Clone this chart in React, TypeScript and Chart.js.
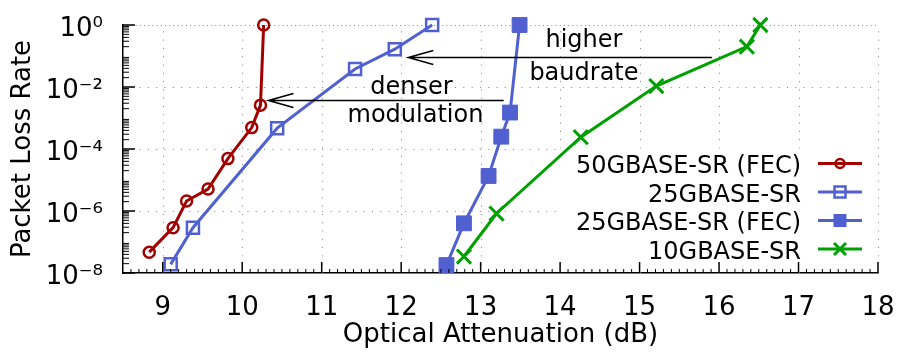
import React, { useEffect, useRef } from 'react';
import { Chart, registerables } from 'chart.js';

Chart.register(...registerables);

// ---------- data ----------
const fec50X = [8.83, 9.13, 9.30, 9.57, 9.82, 10.12, 10.23, 10.27];
const fec50Y = [4.7e-8, 2.9e-7, 2.1e-6, 5.1e-6, 4.9e-5, 4.9e-4, 2.6e-3, 1.0];

const sr25X = [9.10, 9.38, 10.44, 11.42, 11.92, 12.39];
const sr25Y = [1.9e-8, 2.9e-7, 4.7e-4, 3.8e-2, 1.66e-1, 1.0];

const fec25X = [12.57, 12.79, 13.10, 13.26, 13.37, 13.49];
const fec25Y = [1.8e-8, 4.0e-7, 1.35e-5, 2.5e-4, 1.5e-3, 1.0];

const sr10X = [12.79, 13.20, 14.26, 15.21, 16.35, 16.52];
const sr10Y = [3.4e-8, 8.3e-7, 2.4e-4, 1.07e-2, 2.0e-1, 1.0];

const seriesNames = ['50GBASE-SR (FEC)', '25GBASE-SR', '25GBASE-SR (FEC)', '10GBASE-SR'];

const xTicks = [9, 10, 11, 12, 13, 14, 15, 16, 17, 18];
const yTicks = [1e-8, 1e-6, 1e-4, 1e-2, 1];
const yTickLabels = ['10⁻⁸', '10⁻⁶', '10⁻⁴', '10⁻²', '10⁰'];

const xTitle = 'Optical Attenuation (dB)';
const yTitle = 'Packet Loss Rate';

// annotations (data coordinates)
const noteTexts = ['denser', 'modulation', 'higher', 'baudrate'];
const noteX = [12.13, 12.18, 14.30, 14.30];
const noteY = [10 ** -2.23, 10 ** -3.12, 10 ** -0.72, 10 ** -1.77];
const arrowFromX = [13.29, 15.91];
const arrowToX = [10.33, 12.09];
const arrowY = [10 ** -2.42, 10 ** -1.02];

// ---------- styles ----------
const RED = '#a00000';
const BLUE = '#5060d0';
const GREEN = '#00a000';
const FONT = '"DejaVu Sans", sans-serif';

const toPoints = (xs: number[], ys: number[]) => xs.map((x, i) => ({ x, y: ys[i] }));

const decorPlugin = {
  id: 'gnuplotDecor',
  beforeDatasetsDraw(chart: any) {
    const { ctx, chartArea: a } = chart;
    const xs = chart.scales.x;
    const ys = chart.scales.y;
    ctx.save();
    ctx.strokeStyle = '#808080';
    ctx.lineWidth = 1;
    ctx.setLineDash([1, 7.3]);
    for (const v of xTicks) {
      const px = Math.round(xs.getPixelForValue(v)) + 0.5;
      ctx.beginPath();
      ctx.moveTo(px, a.bottom);
      ctx.lineTo(px, a.top);
      ctx.stroke();
    }
    for (const v of yTicks) {
      if (v === yTicks[0]) continue;
      const py = Math.round(ys.getPixelForValue(v)) + 0.5;
      ctx.setLineDash(v === 1 ? [1, 3.2] : [1, 7.3]);
      ctx.beginPath();
      ctx.moveTo(a.left, py);
      ctx.lineTo(a.right, py);
      ctx.stroke();
    }
    ctx.setLineDash([]);
    // opaque key box
    ctx.fillStyle = '#ffffff';
    ctx.fillRect(a.right - 320, a.top + 123.5, 314, a.bottom - a.top - 125.5);
    ctx.restore();
  },
  afterDatasetsDraw(chart: any) {
    const { ctx, chartArea: a } = chart;
    const xs = chart.scales.x;
    const ys = chart.scales.y;
    ctx.save();
    ctx.setLineDash([]);
    ctx.strokeStyle = '#000';
    ctx.lineWidth = 1.5;
    for (const v of xTicks) {
      const px = xs.getPixelForValue(v);
      ctx.beginPath();
      ctx.moveTo(px, a.bottom);
      ctx.lineTo(px, a.bottom - 11);
      ctx.stroke();
    }
    for (const v of yTicks) {
      const py = ys.getPixelForValue(v);
      ctx.beginPath();
      ctx.moveTo(a.left, py);
      ctx.lineTo(a.left + 12, py);
      ctx.stroke();
    }
    ctx.lineWidth = 1;
    for (let i = 86; i < 180; i++) {
      if (i % 10 === 0) continue;
      const px = xs.getPixelForValue(i / 10);
      ctx.beginPath();
      ctx.moveTo(px, a.bottom);
      ctx.lineTo(px, a.bottom - 4);
      ctx.stroke();
    }
    for (let d = -8; d < 0; d++) {
      for (let k = 2; k <= 9; k++) {
        const py = ys.getPixelForValue(k * 10 ** d);
        ctx.beginPath();
        ctx.moveTo(a.left, py);
        ctx.lineTo(a.left + 6, py);
        ctx.stroke();
      }
    }
    // arrows
    ctx.lineWidth = 1.5;
    for (let i = 0; i < arrowY.length; i++) {
      const py = Math.round(ys.getPixelForValue(arrowY[i])) + 0.5;
      const x1 = xs.getPixelForValue(arrowFromX[i]);
      const x2 = xs.getPixelForValue(arrowToX[i]);
      ctx.beginPath();
      ctx.moveTo(x1, py);
      ctx.lineTo(x2, py);
      ctx.moveTo(x2 + 25, py - 7);
      ctx.lineTo(x2, py);
      ctx.lineTo(x2 + 25, py + 7);
      ctx.stroke();
    }
    // annotation text
    ctx.fillStyle = '#000';
    ctx.font = `24px ${FONT}`;
    ctx.textAlign = 'center';
    ctx.textBaseline = 'alphabetic';
    for (let i = 0; i < noteTexts.length; i++) {
      ctx.fillText(noteTexts[i], xs.getPixelForValue(noteX[i]), ys.getPixelForValue(noteY[i]));
    }
    // legend (key)
    const colors = [RED, BLUE, BLUE, GREEN];
    const rowsY = [a.bottom - 109.5, a.bottom - 81, a.bottom - 52.5, a.bottom - 24];
    const textRight = a.right - 77;
    const s1 = a.right - 60;
    const s2 = a.right - 16;
    const mx = a.right - 38;
    ctx.textAlign = 'right';
    for (let i = 0; i < seriesNames.length; i++) {
      const ly = rowsY[i];
      ctx.fillStyle = '#000';
      ctx.fillText(seriesNames[i], textRight, ly + 9.5);
      ctx.strokeStyle = colors[i];
      ctx.fillStyle = colors[i];
      ctx.lineWidth = 3;
      ctx.beginPath();
      ctx.moveTo(s1, ly);
      ctx.lineTo(s2, ly);
      ctx.stroke();
      ctx.lineWidth = 2.5;
      if (i === 0) {
        ctx.beginPath();
        ctx.arc(mx, ly, 4.5, 0, Math.PI * 2);
        ctx.stroke();
      } else if (i === 1) {
        ctx.strokeRect(mx - 5.5, ly - 5.5, 11, 11);
      } else if (i === 2) {
        ctx.fillRect(mx - 6.5, ly - 6.5, 13, 13);
      } else {
        ctx.lineWidth = 3;
        ctx.beginPath();
        ctx.moveTo(mx - 6, ly - 6);
        ctx.lineTo(mx + 6, ly + 6);
        ctx.moveTo(mx + 6, ly - 6);
        ctx.lineTo(mx - 6, ly + 6);
        ctx.stroke();
      }
    }
    ctx.restore();
  },
};

export default function App() {
  const ref = useRef<HTMLCanvasElement | null>(null);

  useEffect(() => {
    if (!ref.current) return;
    const common = { showLine: true, borderWidth: 3, clip: false as any, tension: 0 };
    const chart = new Chart(ref.current, {
      type: 'scatter',
      data: {
        datasets: [
          {
            ...common,
            label: seriesNames[0],
            data: toPoints(fec50X, fec50Y),
            borderColor: RED,
            pointStyle: 'circle',
            pointRadius: 5.5,
            pointBorderWidth: 2.5,
            pointBorderColor: RED,
            pointBackgroundColor: 'rgba(0,0,0,0)',
          },
          {
            ...common,
            label: seriesNames[1],
            data: toPoints(sr25X, sr25Y),
            borderColor: BLUE,
            pointStyle: 'rect',
            pointRadius: 8.5,
            pointBorderWidth: 2.5,
            pointBorderColor: BLUE,
            pointBackgroundColor: 'rgba(0,0,0,0)',
          },
          {
            ...common,
            label: seriesNames[2],
            data: toPoints(fec25X, fec25Y),
            borderColor: BLUE,
            pointStyle: 'rect',
            pointRadius: 10.5,
            pointBorderWidth: 1,
            pointBorderColor: BLUE,
            pointBackgroundColor: BLUE,
          },
          {
            ...common,
            label: seriesNames[3],
            data: toPoints(sr10X, sr10Y),
            borderColor: GREEN,
            pointStyle: 'crossRot',
            pointRadius: 10,
            pointBorderWidth: 3,
            pointBorderColor: GREEN,
            pointBackgroundColor: GREEN,
          },
        ],
      },
      options: {
        animation: false,
        responsive: false,
        maintainAspectRatio: false,
        layout: { padding: { top: 25, right: 23, left: 0, bottom: 0 } },
        plugins: {
          legend: { display: false },
          tooltip: { enabled: false },
        },
        scales: {
          x: {
            type: 'linear',
            min: 8.5,
            max: 18,
            afterBuildTicks: (s: any) => {
              s.ticks = xTicks.map((v) => ({ value: v }));
            },
            afterFit: (s: any) => {
              s.height = 80;
              s.paddingLeft = 0;
              s.paddingRight = 0;
              s.paddingTop = 0;
              s.paddingBottom = 0;
            },
            grid: { display: false, drawTicks: false },
            border: { display: true, color: '#000', width: 1.5 },
            ticks: {
              autoSkip: false,
              maxRotation: 0,
              padding: 20,
              color: '#000',
              font: { family: FONT, size: 26 },
              callback: (v: any) => String(v),
            },
            title: {
              display: true,
              text: xTitle,
              color: '#000',
              font: { family: FONT, size: 26 },
              padding: { top: 0, bottom: 2 },
            },
          },
          y: {
            type: 'logarithmic',
            min: 1e-8,
            max: 1,
            afterBuildTicks: (s: any) => {
              s.ticks = yTicks.map((v) => ({ value: v, major: true }));
            },
            afterFit: (s: any) => {
              s.width = 123;
              s.paddingLeft = 0;
              s.paddingRight = 0;
              s.paddingTop = 0;
              s.paddingBottom = 0;
            },
            grid: { display: false, drawTicks: false },
            border: { display: true, color: '#000', width: 1.5 },
            ticks: {
              autoSkip: false,
              padding: 20,
              labelOffset: 4,
              color: '#000',
              font: { family: FONT, size: 26 },
              callback: (_v: any, i: number) => yTickLabels[i],
            },
            title: {
              display: true,
              text: yTitle,
              color: '#000',
              font: { family: FONT, size: 26 },
              padding: { top: 8, bottom: 0 },
            },
          },
        },
      },
      plugins: [decorPlugin],
    });
    return () => chart.destroy();
  }, []);

  return (
    <div style={{ position: 'absolute', left: 0, top: 0, width: 901, height: 353, background: '#fff' }}>
      <canvas ref={ref} width={901} height={353} />
    </div>
  );
}
